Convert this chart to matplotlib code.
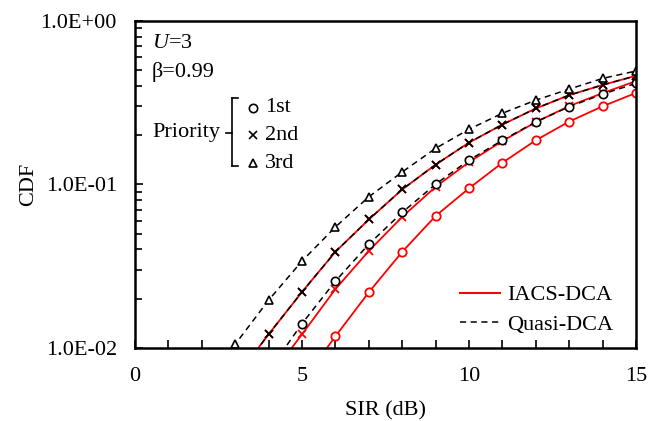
import numpy as np
import matplotlib
matplotlib.use("Agg")
import matplotlib.pyplot as plt
from matplotlib.lines import Line2D

plt.rcParams["font.family"] = ["Liberation Serif", "DejaVu Serif"]
plt.rcParams["mathtext.fontset"] = "custom"
plt.rcParams["mathtext.it"] = "Liberation Serif:italic"
plt.rcParams["mathtext.rm"] = "Liberation Serif"

# SIR (dB) and CDF values (first point lies below the axis, clipped)
sir_q3 = [2, 3, 4, 5, 6, 7, 8, 9, 10, 11, 12, 13, 14, 15]
cdf_q3 = [0.0055, 0.01054, 0.0196, 0.0340, 0.0549, 0.0839, 0.119, 0.166,
          0.217, 0.272, 0.327, 0.382, 0.444, 0.493]

sir_q2 = [3, 4, 5, 6, 7, 8, 9, 10, 11, 12, 13, 14, 15]
cdf_q2 = [0.0065, 0.01213, 0.0220, 0.0387, 0.0610, 0.0931, 0.132, 0.180,
          0.232, 0.291, 0.351, 0.405, 0.461]

sir_q1 = [4, 5, 6, 7, 8, 9, 10, 11, 12, 13, 14, 15]
cdf_q1 = [0.0072, 0.01410, 0.0256, 0.0431, 0.0673, 0.1003, 0.1406, 0.186,
          0.241, 0.298, 0.356, 0.414]

sir_i3 = [3, 4, 5, 6, 7, 8, 9, 10, 11, 12, 13, 14, 15]
cdf_i3 = [0.0065, 0.01213, 0.0220, 0.0387, 0.0610, 0.0931, 0.132, 0.180,
          0.232, 0.291, 0.351, 0.405, 0.461]

sir_i2 = [4, 5, 6, 7, 8, 9, 10, 11, 12, 13, 14, 15]
cdf_i2 = [0.0065, 0.01213, 0.0229, 0.0392, 0.0633, 0.0966, 0.1367, 0.184,
          0.240, 0.301, 0.361, 0.428]

sir_i1 = [5, 6, 7, 8, 9, 10, 11, 12, 13, 14, 15]
cdf_i1 = [0.0062, 0.01178, 0.0219, 0.0387, 0.0641, 0.0946, 0.1356, 0.186,
          0.242, 0.300, 0.362]

W, H = 650, 421
fig = plt.figure(figsize=(W / 100, H / 100), dpi=100)
ax = fig.add_axes([0.2077, 0.1734, 0.7708, 0.7774])

red = "#ff0000"
ms = 6
dash = (0, (4, 3))
# IACS-DCA (red, solid)
ax.plot(sir_i1, cdf_i1, color=red, lw=1.3, marker="o", ms=ms, mfc="white", mec=red, mew=1.3)
ax.plot(sir_i2, cdf_i2, color=red, lw=1.3, marker="x", ms=ms, mec=red, mew=1.3)
ax.plot(sir_i3, cdf_i3, color=red, lw=1.3, marker="x", ms=ms, mec=red, mew=1.3)
# Quasi-DCA (black, dashed)
ax.plot(sir_q1, cdf_q1, color="k", lw=1.1, ls=dash, marker="o", ms=ms, mfc="white", mec="k", mew=1.2)
ax.plot(sir_q2, cdf_q2, color="k", lw=1.1, ls=dash, marker="x", ms=ms, mec="k", mew=1.3)
ax.plot(sir_q3, cdf_q3, color="k", lw=1.1, ls=dash, marker="^", ms=ms, mfc="white", mec="k", mew=1.2)

ax.set_yscale("log")
ax.set_xlim(0, 15)
ax.set_ylim(0.01, 1.0)
ax.set_xticks([0, 5, 10, 15])
ax.set_xticks(np.arange(0, 16, 1), minor=True)
ax.set_yticks([0.01, 0.1, 1.0])
ax.set_yticklabels(["1.0E-02", "1.0E-01", "1.0E+00"])
ax.tick_params(which="both", direction="in", top=False, right=False,
               labelsize=16, width=1.2)
ax.tick_params(which="major", length=6)
ax.tick_params(axis="x", which="major", pad=14)
ax.tick_params(axis="y", which="major", pad=13)
ax.tick_params(which="minor", length=5)
ax.tick_params(axis="x", which="minor", length=6)
for s in ax.spines.values():
    s.set_linewidth(1.8)

ax.set_xlabel("SIR (dB)", fontsize=16, labelpad=11)
ax.set_ylabel("CDF", fontsize=16, labelpad=2)

# annotations, positioned in figure pixels (origin top-left)
fig.text(152 / W, 1 - 43 / H, "$U$=3", fontsize=16, va="center")
fig.text(152 / W, 1 - 72 / H, "β=0.99", fontsize=16, va="center")
fig.text(152 / W, 1 - 133 / H, "Priority", fontsize=16, va="center")
for xs, ys in [([232, 232], [98, 166]), ([232, 238], [98, 98]),
               ([232, 238], [166, 166]), ([226, 232], [133, 133])]:
    fig.add_artist(Line2D([x / W for x in xs], [1 - y / H for y in ys],
                          color="k", lw=1.2))
for mk, y, lab in [("o", 108, "1st"), ("x", 135, "2nd"), ("^", 163, "3rd")]:
    fig.add_artist(Line2D([253 / W], [1 - y / H], marker=mk, ms=ms,
                          mfc="white", mec="k", mew=1.2, ls="none"))
    fig.text(265 / W, 1 - y / H, lab, fontsize=16, va="center")

handles = [Line2D([], [], color=red, lw=1.5),
           Line2D([], [], color="k", lw=1.1, ls=dash)]
ax.legend(handles, ["IACS-DCA", "Quasi-DCA"], loc="lower right",
          bbox_to_anchor=(0.954, 0.04), frameon=False, fontsize=16,
          borderpad=0, borderaxespad=0,
          handlelength=1.8, handletextpad=0.3, labelspacing=0.4)

fig.savefig("out.png", dpi=100)
